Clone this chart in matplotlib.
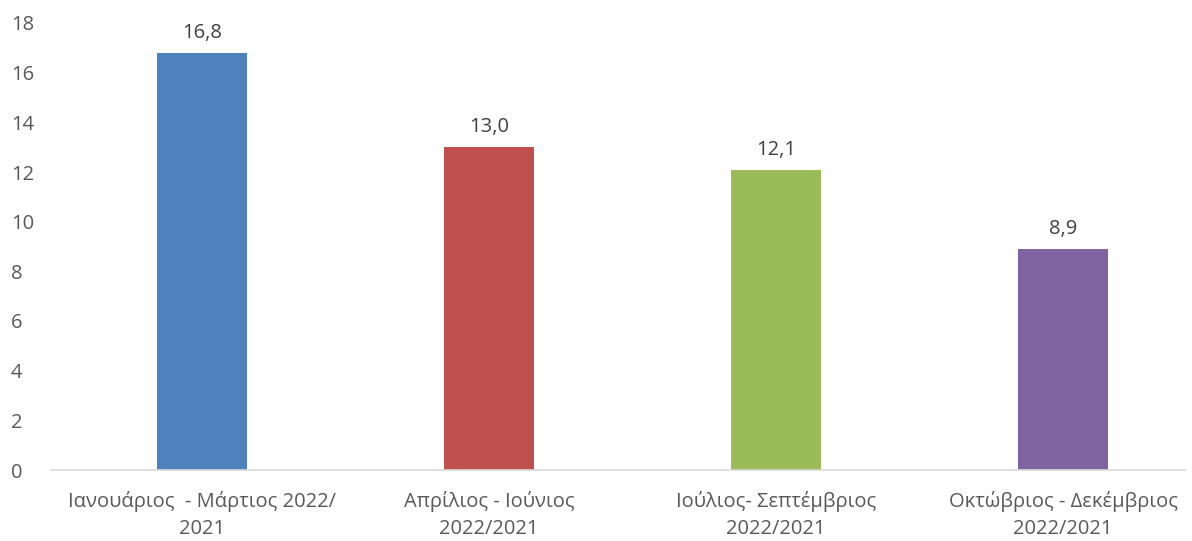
import matplotlib
matplotlib.use("Agg")
import matplotlib.pyplot as plt

categories = [
    "Ιανουάριος  - Μάρτιος 2022/\n2021",
    "Απρίλιος - Ιούνιος\n2022/2021",
    "Ιούλιος- Σεπτέμβριος\n2022/2021",
    "Οκτώβριος - Δεκέμβριος\n2022/2021",
]
values = [16.8, 13.0, 12.1, 8.9]
colors = ["#4F81BD", "#C0504D", "#9BBB59", "#8064A2"]
yticks = [0, 2, 4, 6, 8, 10, 12, 14, 16, 18]

plt.rcParams["font.family"] = ["Open Sans", "DejaVu Sans"]
FS = 14.5

fig = plt.figure(figsize=(11.92, 5.41), dpi=100)
ax = fig.add_axes([51 / 1192, 71 / 541, (1185 - 51) / 1192, (470 - 23) / 541])

x = list(range(len(values)))
bars = ax.bar(x, values, width=0.314, color=colors)

for rect, v in zip(bars, values):
    ax.annotate(
        f"{v:.1f}".replace(".", ","),
        (rect.get_x() + rect.get_width() / 2, v),
        xytext=(0, 7),
        textcoords="offset points",
        ha="center",
        va="bottom",
        fontsize=FS,
        color="#404040",
    )

ax.set_xlim(-0.526, 3.425)
ax.set_ylim(0, 18)
ax.set_yticks(yticks)
ax.set_xticks(x, labels=categories)
ax.tick_params(axis="both", length=0, labelsize=FS, labelcolor="#595959")
ax.tick_params(axis="y", pad=29)
ax.tick_params(axis="x", pad=15)
for lbl in ax.get_yticklabels():
    lbl.set_horizontalalignment("left")
for lbl in ax.get_xticklabels():
    lbl.set_linespacing(1.5)
for side in ["top", "right", "left"]:
    ax.spines[side].set_visible(False)
ax.spines["bottom"].set_color("#D9D9D9")
ax.spines["bottom"].set_linewidth(1.2)

fig.savefig("out.png", dpi=100)
